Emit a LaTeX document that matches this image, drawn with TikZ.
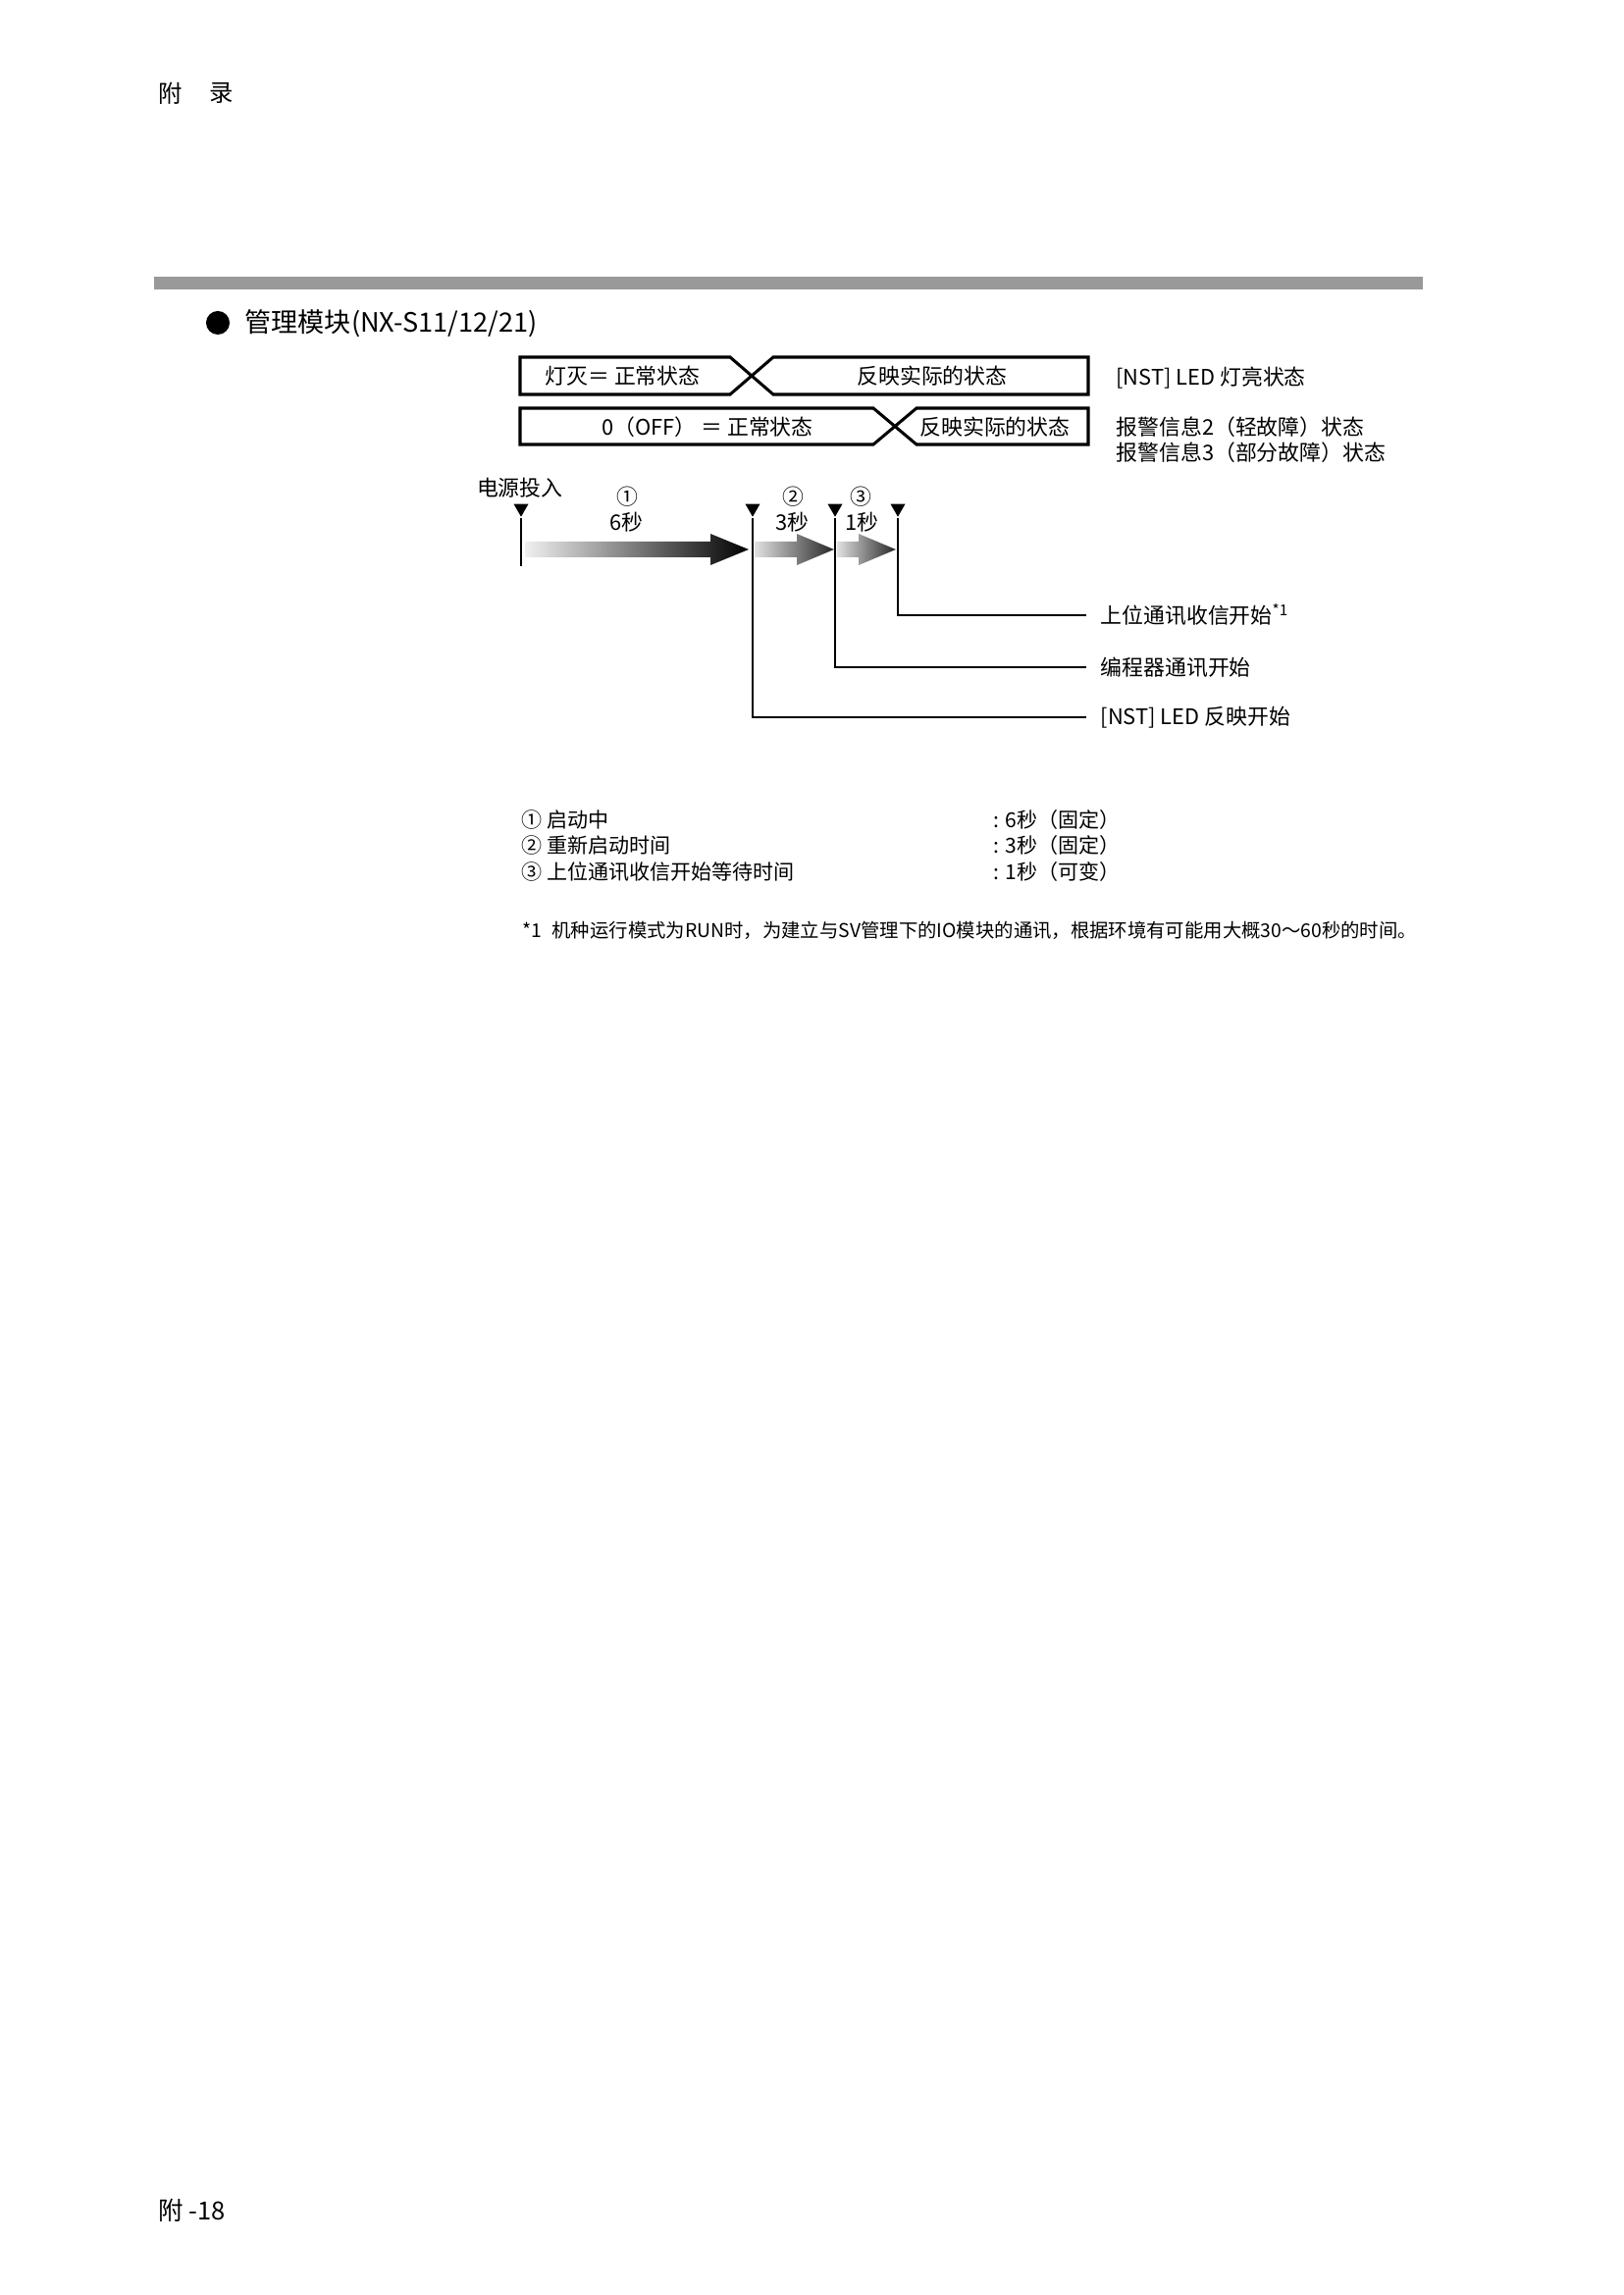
\documentclass[tikz,border=0pt]{standalone}
\usepackage{fontspec}
\setmainfont{Noto Sans CJK SC}
\usetikzlibrary{shapes.geometric}

\tikzset{
  statebar/.style={line width=1.1pt, line join=miter},
  boxtxt/.style={inner sep=0pt, font=\fontsize{7.9}{9.5}\selectfont},
  listtxt/.style={inner sep=0pt, font=\fontsize{7.6}{9}\selectfont},
  notetxt/.style={inner sep=0pt, font=\fontsize{7}{8.5}\selectfont},
  headtxt/.style={inner sep=0pt, font=\fontsize{8.8}{10}\selectfont},
  tmark/.style={regular polygon, regular polygon sides=3, shape border rotate=180,
    fill=black, inner sep=0pt, minimum size=2.2mm},
  guide/.style={line width=0.5pt},
}

\begin{document}
\begin{tikzpicture}[x=0.127mm, y=-0.127mm]
  \useasboundingbox (0,0) rectangle (1654,2339);

  % page head
  \node[headtxt, anchor=west] (hd1) at (161,95) {附};
  \node[headtxt, anchor=west] (hd2) at (213,95) {录};
  \fill[black!40] (157,282) rectangle (1450,295);
  \node[circle, fill=black, inner sep=0pt, minimum size=3.05mm] (dot) at (222,329) {};
  \node[inner sep=0pt, anchor=west, font=\fontsize{9.8}{11}\selectfont] (title) at (249,330) {管理模块(NX-S11/12/21)};

  % status bars
  \draw[statebar] (530,364) -- (744,364) -- (788,402) -- (1109,402) -- (1109,364) -- (788,364) -- (744,402) -- (530,402) -- cycle;
  \draw[statebar] (530,416) -- (890,416) -- (934,453) -- (1109,453) -- (1109,416) -- (934,416) -- (890,453) -- (530,453) -- cycle;
  \node[boxtxt, anchor=west] (b1l) at (555,383) {灯灭＝ 正常状态};
  \node[boxtxt] (b1r) at (950,383) {反映实际的状态};
  \node[boxtxt] (b2l) at (721,435) {0（OFF） ＝ 正常状态};
  \node[boxtxt] (b2r) at (1014,435) {反映实际的状态};
  \node[boxtxt, anchor=west] (st1) at (1137,385) {[NST] LED 灯亮状态};
  \node[boxtxt, anchor=west] (st2) at (1137,435) {报警信息2（轻故障）状态};
  \node[boxtxt, anchor=west] (st3) at (1137,461) {报警信息3（部分故障）状态};

  % time line
  \node[boxtxt, anchor=east] (pwr) at (574,497) {电源投入};
  \node[boxtxt] (n1) at (639,506) {①};
  \node[boxtxt] (d1) at (638,532) {6秒};
  \node[boxtxt] (n2) at (808,506) {②};
  \node[boxtxt] (d2) at (807,532) {3秒};
  \node[boxtxt] (n3) at (877,506) {③};
  \node[boxtxt] (d3) at (878,532) {1秒};

  \node[tmark] (m0) at (531,518) {};
  \node[tmark] (m1) at (767,518) {};
  \node[tmark] (m2) at (851,518) {};
  \node[tmark] (m3) at (915,518) {};

  \shade[left color=black!6, right color=black] (535,552) -- (724,552) -- (724,544) -- (763,560) -- (724,576) -- (724,568) -- (535,568) -- cycle;
  \shade[left color=black!12, right color=black!85] (769,552) -- (812,552) -- (812,544) -- (850,560) -- (812,576) -- (812,568) -- (769,568) -- cycle;
  \shade[left color=black!12, right color=black!85] (853,552) -- (875,552) -- (875,544) -- (913,560) -- (875,576) -- (875,568) -- (853,568) -- cycle;

  \node[boxtxt, anchor=west, inner xsep=1.8mm] (ev3) at (1107,627) {上位通讯收信开始\smash{\textsuperscript{*1}}};
  \node[boxtxt, anchor=west, inner xsep=1.8mm] (ev2) at (1107,680) {编程器通讯开始};
  \node[boxtxt, anchor=west, inner xsep=1.8mm] (ev1) at (1107,731) {[NST] LED 反映开始};

  \coordinate (p0) at (531,577);
  \draw[guide] (m0.south) -- (p0);
  \draw[guide] (m1.south) |- (ev1.west);
  \draw[guide] (m2.south) |- (ev2.west);
  \draw[guide] (m3.south) |- (ev3.west);

  % legend
  \node[listtxt, anchor=west] (l1) at (531,836) {① 启动中};
  \node[listtxt, anchor=west] (l2) at (531,862) {② 重新启动时间};
  \node[listtxt, anchor=west] (l3) at (531,889) {③ 上位通讯收信开始等待时间};
  \node[listtxt, anchor=west] (v1) at (1012,836) {: 6秒（固定）};
  \node[listtxt, anchor=west] (v2) at (1012,862) {: 3秒（固定）};
  \node[listtxt, anchor=west] (v3) at (1012,889) {: 1秒（可变）};

  \node[notetxt, anchor=west] (fn0) at (532,948) {*1};
  \node[notetxt, anchor=west] (fn1) at (562,948) {机种运行模式为RUN时，为建立与SV管理下的IO模块的通讯，根据环境有可能用大概30～60秒的时间。};

  % page foot
  \node[headtxt, anchor=west, font=\fontsize{9.2}{11}\selectfont] (pg) at (161,2253) {附 -18};
\end{tikzpicture}
\end{document}
